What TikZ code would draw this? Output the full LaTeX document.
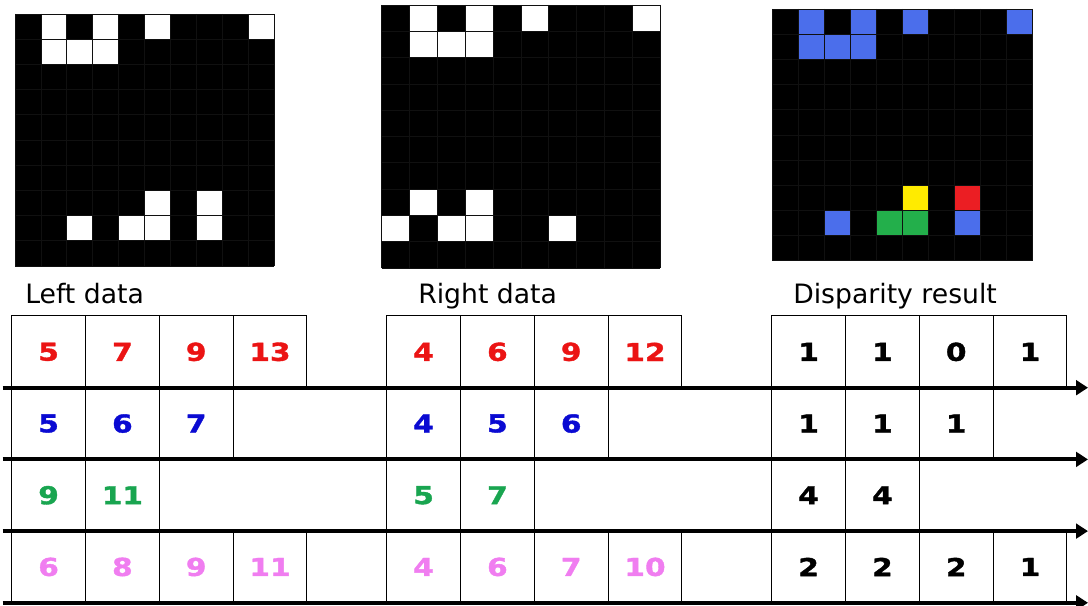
\documentclass[tikz,border=0pt]{standalone}
\usepackage{fontspec}
\setmainfont{DejaVu Sans}
\newfontfamily\numfont[FakeStretch=1.2, FakeBold=1.5]{DejaVu Sans Bold}
\usetikzlibrary{arrows.meta, positioning}
\definecolor{numred}{RGB}{235,20,20}
\definecolor{numblue}{RGB}{10,10,210}
\definecolor{numgreen}{RGB}{25,165,80}
\definecolor{numpink}{RGB}{240,125,240}
\definecolor{pixblue}{RGB}{75,110,235}
\definecolor{pixgreen}{RGB}{35,175,75}
\definecolor{pixyellow}{RGB}{255,235,0}
\definecolor{pixred}{RGB}{235,30,35}
\definecolor{gridgray}{RGB}{16,16,16}
\newcommand{\datarow}[5]{%
  \foreach \n [count=\c] in {#5}
    \node[cell, text=#4] (#1#3\c) at ({#2+(\c-0.5)*73.8}, {316+(#3-0.5)*71.7}) {\n};
}

\begin{document}
\begin{tikzpicture}[
  x=0.75pt, y=-0.75pt,
  cell/.style={draw, line width=0.75pt, rectangle, inner sep=0pt,
    minimum width=55.35pt, minimum height=53.8pt,
    font=\numfont\fontsize{18.5}{22}\selectfont},
  title/.style={anchor=base west, inner sep=0pt, font=\fontsize{20}{24}\selectfont},
  sepline/.style={line width=3pt, -{Triangle[length=9pt,width=11pt]}},
  gridln/.style={draw=gridgray, line width=0.5pt},
  pix/.style={draw=gridgray, line width=0.5pt}
]
\useasboundingbox (0,0) rectangle (1088,606);

% left image
\begin{scope}[shift={(15,14)}, x=19.425pt, y=-18.9pt]
  \fill (0,0) rectangle (10,10);
  \foreach \k in {0,...,10} {
    \draw[gridln] (\k,0) -- (\k,10);
    \draw[gridln] (0,\k) -- (10,\k);
  }
  \foreach \c/\r in {1/0,3/0,5/0,9/0,1/1,2/1,3/1,5/7,7/7,2/8,4/8,5/8,7/8}
    \filldraw[pix, fill=white] (\c,\r) rectangle ++(1,1);
\end{scope}

% right image
\begin{scope}[shift={(381.7,5)}, x=20.87pt, y=-19.725pt]
  \fill (0,0) rectangle (10,10);
  \foreach \k in {0,...,10} {
    \draw[gridln] (\k,0) -- (\k,10);
    \draw[gridln] (0,\k) -- (10,\k);
  }
  \foreach \c/\r in {1/0,3/0,5/0,9/0,1/1,2/1,3/1,1/7,3/7,0/8,2/8,3/8,6/8}
    \filldraw[pix, fill=white] (\c,\r) rectangle ++(1,1);
\end{scope}

% disparity map
\begin{scope}[shift={(772.7,9)}, x=19.5pt, y=-18.88pt]
  \fill (0,0) rectangle (10,10);
  \foreach \k in {0,...,10} {
    \draw[gridln] (\k,0) -- (\k,10);
    \draw[gridln] (0,\k) -- (10,\k);
  }
  \foreach \c/\r in {1/0,3/0,5/0,9/0,1/1,2/1,3/1,2/8,7/8}
    \filldraw[pix, fill=pixblue] (\c,\r) rectangle ++(1,1);
  \foreach \c/\r in {4/8,5/8}
    \filldraw[pix, fill=pixgreen] (\c,\r) rectangle ++(1,1);
  \filldraw[pix, fill=pixyellow] (5,7) rectangle ++(1,1);
  \filldraw[pix, fill=pixred] (7,7) rectangle ++(1,1);
\end{scope}

\node[title] (lblL) at (25,303.3) {Left data};
\node[title] (lblR) at (418,303.5) {Right data};
\node[title] (lblD) at (793,303.3) {Disparity result};

% data rows
\datarow{L}{11.7}{1}{numred}{5,7,9,13}
\datarow{L}{11.7}{2}{numblue}{5,6,7}
\datarow{L}{11.7}{3}{numgreen}{9,11}
\datarow{L}{11.7}{4}{numpink}{6,8,9,11}
\datarow{R}{386.7}{1}{numred}{4,6,9,12}
\datarow{R}{386.7}{2}{numblue}{4,5,6}
\datarow{R}{386.7}{3}{numgreen}{5,7}
\datarow{R}{386.7}{4}{numpink}{4,6,7,10}
\datarow{D}{771.7}{1}{black}{1,1,0,1}
\datarow{D}{771.7}{2}{black}{1,1,1}
\datarow{D}{771.7}{3}{black}{4,4}
\datarow{D}{771.7}{4}{black}{2,2,2,1}

% row separators
\foreach \r/\yy in {1/387.7,2/459.4,3/531.1,4/602.8} {
  \coordinate (s\r) at (2.7,\yy);
  \coordinate (e\r) at (1088,\yy);
  \draw[sepline] (s\r) -- (e\r);
}
\end{tikzpicture}
\end{document}
